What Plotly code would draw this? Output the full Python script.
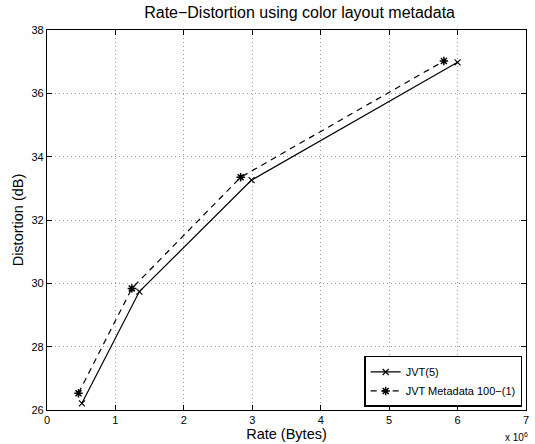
import plotly.graph_objects as go

# Data (rate in units of 10^6 bytes, distortion in dB)
jvt_rate = [0.51, 1.35, 2.99, 6.00]
jvt_dist = [26.21, 29.74, 33.26, 36.98]
meta_rate = [0.46, 1.24, 2.83, 5.80]
meta_dist = [26.53, 29.84, 33.35, 37.02]

x_ticks = [0, 1, 2, 3, 4, 5, 6, 7]
y_ticks = [26, 28, 30, 32, 34, 36, 38]

FONT = "Liberation Sans, Arial, Helvetica, sans-serif"

fig = go.Figure()
fig.add_trace(go.Scatter(
    x=jvt_rate, y=jvt_dist, mode="lines+markers", name="JVT(5)",
    line=dict(color="black", width=1.2, dash="solid"),
    marker=dict(symbol="x-thin-open", size=6, color="black",
                line=dict(color="black", width=1.2)),
))
fig.add_trace(go.Scatter(
    x=meta_rate, y=meta_dist, mode="lines+markers", name="JVT Metadata 100\u2212(1)",
    line=dict(color="black", width=1.2, dash="6px,5px"),
    marker=dict(symbol="asterisk-open", size=7, color="black",
                line=dict(color="black", width=1.5)),
))

axis_common = dict(
    showline=True, linecolor="black", linewidth=1.2, mirror="ticks",
    ticks="inside", ticklen=5, tickcolor="black",
    showgrid=True, gridcolor="#999999", gridwidth=1, griddash="1px,3px",
    zeroline=False, tickfont=dict(family=FONT, size=11, color="black"),
)

fig.update_xaxes(range=[0, 7], tickvals=x_ticks, ticktext=[str(v) for v in x_ticks],
                 title=dict(text="Rate (Bytes)", font=dict(family=FONT, size=14.5, color="black"),
                            standoff=0),
                 **axis_common)
fig.update_yaxes(range=[26, 38], tickvals=y_ticks, ticktext=[str(v) for v in y_ticks],
                 title=dict(text="Distortion (dB)", font=dict(family=FONT, size=14.5, color="black"),
                            standoff=4),
                 **axis_common)

fig.add_annotation(x=1.0, y=0, xref="paper", yref="paper", xanchor="right", yanchor="top",
                   yshift=-19, xshift=4, showarrow=False,
                   text="x 10<sup>6</sup>", font=dict(family=FONT, size=10, color="black"))

fig.update_layout(
    width=535, height=444,
    margin=dict(l=47, r=6, t=30, b=34),
    paper_bgcolor="white", plot_bgcolor="white",
    title=dict(text="Rate\u2212Distortion using color layout metadata", x=0.56, xanchor="center",
               y=0.972, yanchor="middle",
               font=dict(family=FONT, size=16, color="black")),
    legend=dict(x=0.992, y=0.008, xanchor="right", yanchor="bottom",
                bgcolor="white", bordercolor="black", borderwidth=1.5,
                font=dict(family=FONT, size=11, color="black"),
                tracegroupgap=0, itemwidth=30),
    showlegend=True,
)

fig.write_html("out.html", config={"displayModeBar": False},
               post_script="document.body.style.margin='0';document.body.style.overflow='hidden';")
